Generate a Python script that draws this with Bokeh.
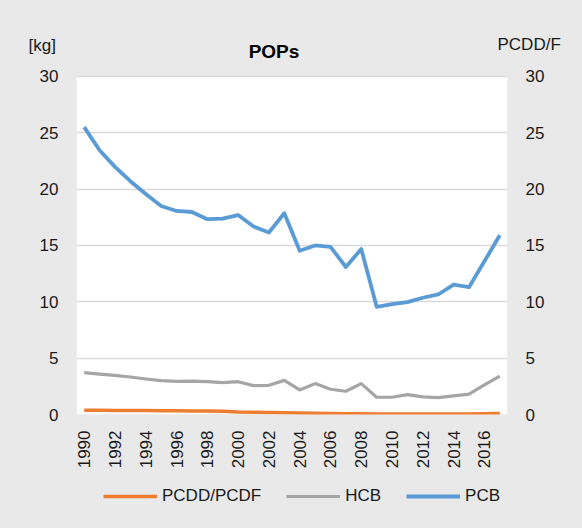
import math
from bokeh.plotting import figure
from bokeh.layouts import column
from bokeh.models import (LinearAxis, Range1d, FixedTicker, Label, Legend, LegendItem,
                          ColumnDataSource, BoxAnnotation)
from bokeh.embed import file_html
from bokeh.resources import INLINE

years = list(range(1990, 2018))
pcdd = [0.38, 0.37, 0.36, 0.36, 0.35, 0.34, 0.33, 0.32, 0.30, 0.29, 0.22, 0.20, 0.18, 0.16,
        0.13, 0.12, 0.09, 0.07, 0.06, 0.05, 0.05, 0.05, 0.05, 0.05, 0.05, 0.05, 0.06, 0.08]
hcb = [3.71, 3.59, 3.47, 3.33, 3.15, 3.00, 2.94, 2.97, 2.91, 2.82, 2.91, 2.56, 2.59, 3.03,
       2.18, 2.74, 2.24, 2.06, 2.74, 1.53, 1.53, 1.77, 1.56, 1.50, 1.65, 1.80, 2.62, 3.41]
pcb = [25.5, 23.45, 21.97, 20.7, 19.56, 18.5, 18.06, 17.97, 17.33, 17.38, 17.7, 16.68, 16.15,
       17.86, 14.53, 15.0, 14.88, 13.09, 14.68, 9.56, 9.8, 9.97, 10.36, 10.65, 11.53, 11.3,
       13.6, 15.9]
x_ticks = list(range(1990, 2017, 2))
y_ticks = [0, 5, 10, 15, 20, 25, 30]
series_cols = ["pcdd", "hcb", "pcb"]
series_names = ["PCDD/PCDF", "HCB", "PCB"]
series_colors = ["#ED7D31", "#A5A5A5", "#5B9BD5"]
title_text = "POPs"
left_unit = "[kg]"
right_unit = "PCDD/F"

FONT = "Liberation Sans"
TXT = "#1a1a1a"
BG = "#e9e9e9"
W = 582
HEAD_H = 62
PAD_TOP = 14            # gray space between header and the top of the value area
PLOT_H = 340            # pixel height of the 0..30 value area
MAIN_H = PAD_TOP + PLOT_H + 55
FOOT_H = 528 - HEAD_H - MAIN_H
LINE_W = [3.5, 3.2, 3.8]
X_LO, X_HI = 1989.5, 2017.5
Y_LO, Y_HI = 0, 30
Y_TOP = Y_HI + (Y_HI - Y_LO) * PAD_TOP / PLOT_H
BG_STYLE = {"background-color": BG}

src = ColumnDataSource(dict(year=years, pcdd=pcdd, hcb=hcb, pcb=pcb))


def blank_fig(h):
    f = figure(width=W, height=h, output_backend="svg", toolbar_location=None,
               x_range=Range1d(0, W), y_range=Range1d(h, 0), frame_align=False,
               min_border=0, background_fill_color=BG, border_fill_color=BG,
               outline_line_color=None, title=None, x_axis_location=None, y_axis_location=None,
               styles=BG_STYLE)
    f.grid.visible = False
    return f

# header strip: title and unit captions
head = blank_fig(HEAD_H)
head.add_layout(Label(x=273.5, y=51, text=title_text, text_font=FONT, text_font_size="19px",
                      text_font_style="bold", text_align="center", text_baseline="middle",
                      text_color="black"))
head.add_layout(Label(x=28, y=44.5, text=left_unit, text_font=FONT, text_font_size="17px",
                      text_align="left", text_baseline="middle", text_color=TXT))
head.add_layout(Label(x=497, y=44, text=right_unit, text_font=FONT, text_font_size="17px",
                      text_align="left", text_baseline="middle", text_color=TXT))

# main chart
p = figure(width=W, height=MAIN_H, output_backend="svg", toolbar_location=None,
           x_range=Range1d(X_LO, X_HI), y_range=Range1d(Y_LO, Y_TOP), frame_align=False,
           min_border_left=76, min_border_right=75, min_border_top=0, min_border_bottom=55,
           background_fill_color=BG, border_fill_color=BG,
           outline_line_color=None, title=None, y_axis_location=None, styles=BG_STYLE)
# white plot area limited to the value range, gray above it
p.add_layout(BoxAnnotation(left=X_LO, right=X_HI, bottom=Y_LO, top=Y_HI,
                           fill_color="white", fill_alpha=1, line_color=None, level="image"))
p.add_layout(BoxAnnotation(left=X_LO, right=X_HI, bottom=Y_HI, top=Y_TOP,
                           fill_color=BG, fill_alpha=1, line_color=None, level="image"))
p.xgrid.visible = False
p.ygrid.ticker = FixedTicker(ticks=y_ticks)
p.ygrid.grid_line_color = "#d9d9d9"
p.ygrid.grid_line_width = 1.5


def style_axis(ax):
    ax.axis_line_color = None
    ax.major_tick_line_color = None
    ax.minor_tick_line_color = None
    ax.major_tick_in = 0
    ax.major_tick_out = 0
    ax.minor_tick_in = 0
    ax.minor_tick_out = 0
    ax.major_label_text_font = FONT
    ax.major_label_text_font_size = "17px"
    ax.major_label_text_color = TXT

xa = p.xaxis[0]
xa.ticker = FixedTicker(ticks=x_ticks)
style_axis(xa)
xa.major_label_orientation = math.pi / 2
xa.major_label_standoff = 16

for side in ("left", "right"):
    ya = LinearAxis(ticker=FixedTicker(ticks=y_ticks))
    style_axis(ya)
    ya.major_label_standoff = 18
    p.add_layout(ya, side)

for col, color, w in zip(series_cols, series_colors, LINE_W):
    p.line("year", col, source=src, line_color=color, line_width=w, line_join="round")

# footer strip: legend (its renderers are hidden copies of the series)
foot = blank_fig(FOOT_H)
leg_renderers = [foot.line("year", col, source=src, line_color=c, line_width=w, visible=False)
                 for col, c, w in zip(series_cols, series_colors, LINE_W)]
legend = Legend(items=[LegendItem(label=n, renderers=[r]) for n, r in zip(series_names, leg_renderers)],
                orientation="horizontal", location=(103, FOOT_H - 35),
                label_text_font=FONT, label_text_font_size="17px", label_text_color=TXT,
                glyph_width=54, glyph_height=20, label_height=20, label_standoff=5, spacing=25,
                padding=0, margin=0, border_line_color=None, background_fill_alpha=0)
foot.add_layout(legend, "center")

layout = column(head, p, foot, spacing=0, styles=BG_STYLE)
open("out.html", "w").write(file_html(layout, INLINE))
